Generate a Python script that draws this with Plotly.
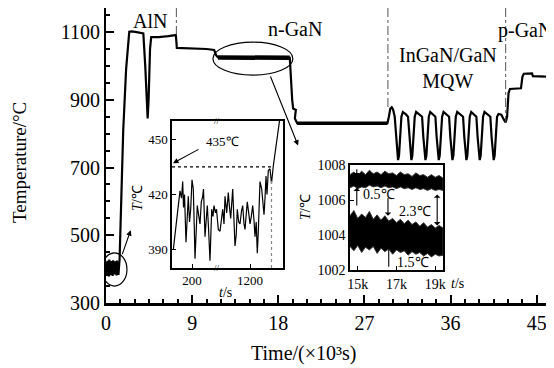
import plotly.graph_objects as go

FONT = "Liberation Serif, Times New Roman, serif"

# ---------------- main growth temperature curve ----------------
main_t = [0.0, 0.05, 0.1, 0.15, 0.2, 0.25, 0.3, 0.35, 0.4, 0.45, 0.5, 0.55, 0.6, 0.65, 0.7,
          0.75, 0.8, 0.85, 0.9, 0.95, 1.0, 1.05, 1.1, 1.15, 1.2, 1.25, 1.3, 1.35, 1.42,
          1.8, 2.1, 2.43, 2.7, 3.2, 3.6, 3.9, 4.1, 4.25, 4.35, 4.45, 4.6, 4.72, 5.5, 6.5,
          7.3, 7.4, 9.0, 10.5, 11.3, 11.5, 11.7, 13.0, 15.0, 17.0, 19.2, 19.3, 19.45,
          19.55, 19.83, 19.73, 19.97, 20.3, 25.0, 29.4, 29.55, 29.7, 29.85, 30.0,
          30.16, 30.29, 30.41, 30.51, 30.61, 30.73, 30.86, 31.01, 31.3,
          31.55, 31.68, 31.8, 31.9, 32.0, 32.12, 32.25, 32.4, 32.7,
          33.02, 33.15, 33.27, 33.37, 33.47, 33.59, 33.72, 33.87, 34.15,
          34.41, 34.54, 34.66, 34.76, 34.86, 34.98, 35.11, 35.26, 35.55,
          35.84, 35.97, 36.09, 36.19, 36.29, 36.41, 36.54, 36.69, 37.0,
          37.3, 37.43, 37.55, 37.65, 37.75, 37.87, 38.0, 38.15, 38.4,
          38.69, 38.82, 38.94, 39.04, 39.14, 39.26, 39.39, 39.54, 39.85,
          40.15, 40.28, 40.4, 40.5, 40.6, 40.72, 40.85, 41.0, 41.3,
          41.55, 41.75, 41.9, 42.05, 42.2, 43.35, 43.5, 43.65, 44.5, 44.6, 46.15, 46.6]
main_T = [395, 420, 380, 425, 385, 415, 378, 428, 390, 418, 382, 424, 388, 420, 380,
          426, 392, 417, 384, 423, 386, 419, 381, 425, 389, 416, 383, 421, 430,
          810, 990, 1101, 1102, 1100, 1098, 1096, 1000, 880, 845, 900, 1050, 1085, 1085, 1088,
          1091, 1053, 1052, 1050, 1047, 1032, 1025, 1024, 1024, 1023, 1024, 960, 900,
          874, 870, 845, 831, 830, 830, 831, 850, 874, 878, 870,
          850, 790, 735, 722, 735, 790, 850, 864, 858,
          850, 790, 735, 722, 735, 790, 850, 864, 858,
          850, 790, 735, 722, 735, 790, 850, 864, 858,
          850, 790, 735, 722, 735, 790, 850, 864, 858,
          850, 790, 735, 722, 735, 790, 850, 864, 858,
          850, 790, 735, 722, 735, 790, 850, 864, 858,
          850, 790, 735, 722, 735, 790, 850, 864, 858,
          850, 790, 735, 722, 735, 790, 850, 858, 856,
          842, 833, 850, 920, 932, 934, 968, 977, 978, 970, 968, 300]

# thick (noisy) plateaus
ngan_t = [11.7, 13.5, 15.5, 17.5, 19.2]
ngan_T = [1025, 1024, 1024, 1023, 1024]
ugan_t = [19.97, 24.0, 29.4]
ugan_T = [831, 830, 831]

x_ticks = [0, 9, 18, 27, 36, 45]
y_ticks = [300, 500, 700, 900, 1100]

stage_names = ["AlN", "n-GaN", "InGaN/GaN<br>MQW", "p-GaN"]
stage_bounds = [7.35, 29.45, 41.75]
stage_bound_bottom = [1090, 872, 833]

# ---------------- inset 1: initial low-temperature stage ----------------
inset1_u = [1.3, 3, 4.7, 6.3, 8, 9.5, 10.7, 11.5, 12.5, 14, 15.2, 16.3, 17.5, 18.7, 20,
            21.3, 22.2, 23, 24.2, 25.3, 26.6, 28, 29.3, 30.7, 31.5, 33, 34.2, 35.3, 36.5, 38,
            39.7, 41, 42, 43.5, 44.5, 46.3, 48, 49.5, 50.7, 52, 53, 54.7, 56.3, 57.5, 58.7,
            60.7, 61.8, 63, 64.2, 65.3, 66.7, 68, 69.5, 70.7, 72, 73, 74.2, 75.3, 76.7, 78,
            79.3, 80.7, 82, 83, 84.2, 85.3, 86.3, 87.3, 88, 89.7, 91, 92, 93, 94, 95,
            96.3, 98, 99.5, 101.3, 102.5, 104, 105.5, 107, 109]
inset1_T = [390, 398, 406, 417, 422, 418, 427, 413, 420, 394, 408, 419, 405, 412, 428,
            423, 404, 385, 400, 414, 409, 404, 416, 419, 423, 397, 406, 414, 402, 384,
            412, 408, 414, 410, 412, 401, 400, 406, 412, 404, 419, 410, 421, 413, 407,
            423, 410, 392, 398, 412, 405, 404, 411, 414, 404, 401, 409, 416, 410, 404,
            408, 414, 406, 397, 405, 388, 400, 413, 427, 423, 415, 409, 418, 430, 420,
            433, 434, 426, 435.5, 440, 448, 452, 458.7, 466]
inset1_tickvals = [20, 78]
inset1_ticktext = ["200", "1200"]
inset1_yticks = [390, 420, 450]
inset1_ref_T = 435

# ---------------- inset 2: n-GaN stage fluctuation bands ----------------
band_t = [14.6, 14.8, 15.0, 15.2, 15.4, 15.6, 15.8, 16.0, 16.2, 16.4, 16.6, 16.8, 17.0,
          17.2, 17.4, 17.6, 17.8, 18.0, 18.2, 18.4, 18.6, 18.8, 19.0, 19.2, 19.4]
upper_top = [1007.45, 1007.6, 1007.4, 1007.65, 1007.45, 1007.7, 1007.5, 1007.6, 1007.45,
             1007.65, 1007.5, 1007.55, 1007.4, 1007.6, 1007.45, 1007.5, 1007.35, 1007.55,
             1007.4, 1007.45, 1007.3, 1007.45, 1007.3, 1007.4, 1007.25]
upper_bot = [1006.7, 1006.8, 1006.65, 1006.75, 1006.7, 1006.85, 1006.75, 1006.8, 1006.7,
             1006.8, 1006.7, 1006.75, 1006.65, 1006.75, 1006.65, 1006.7, 1006.6, 1006.7,
             1006.6, 1006.65, 1006.55, 1006.65, 1006.55, 1006.6, 1006.55]
lower_top = [1005.1, 1005.4, 1004.95, 1005.2, 1005.0, 1005.35, 1004.9, 1005.15, 1004.85,
             1005.1, 1004.8, 1004.95, 1004.7, 1004.9, 1004.65, 1004.85, 1004.6, 1004.75,
             1004.5, 1004.7, 1004.45, 1004.6, 1004.4, 1004.55, 1004.4]
lower_bot = [1003.35, 1003.1, 1003.4, 1003.0, 1003.3, 1003.15, 1003.35, 1002.95, 1003.25,
             1003.05, 1003.2, 1002.9, 1003.15, 1003.0, 1003.1, 1002.85, 1003.05, 1002.9,
             1003.0, 1002.8, 1002.95, 1002.75, 1002.9, 1002.8, 1002.85]
inset2_xticks = [15, 17, 19]
inset2_xtext = ["15k", "17k", "19k"]
inset2_yticks = [1002, 1004, 1006, 1008]

# page body has an 8px default margin: plot area spans screen x 106..554, y 8..303
PX0, PX1, PY0, PY1 = 106, 554, 8, 303
def px(sx):
    return (sx - PX0) / (PX1 - PX0)
def py(sy):
    return (PY1 - sy) / (PY1 - PY0)

fig = go.Figure()

fig.add_trace(go.Scatter(x=main_t, y=main_T, mode="lines",
                         line=dict(color="black", width=2.2), xaxis="x", yaxis="y"))
fig.add_trace(go.Scatter(x=ngan_t, y=ngan_T, mode="lines",
                         line=dict(color="black", width=4.5), xaxis="x", yaxis="y"))
fig.add_trace(go.Scatter(x=ugan_t, y=ugan_T, mode="lines",
                         line=dict(color="black", width=3.5), xaxis="x", yaxis="y"))

fig.add_trace(go.Scatter(x=inset1_u, y=inset1_T, mode="lines",
                         line=dict(color="black", width=1.2), xaxis="x2", yaxis="y2"))
fig.add_trace(go.Scatter(x=[0, inset1_u[-6]], y=[inset1_ref_T, inset1_ref_T], mode="lines",
                         line=dict(color="black", width=1.3, dash="dot"), xaxis="x2", yaxis="y2"))
fig.add_trace(go.Scatter(x=[inset1_u[-7], inset1_u[-7]], y=[380, 428], mode="lines",
                         line=dict(color="#888", width=1.2, dash="dot"), xaxis="x2", yaxis="y2"))

fig.add_trace(go.Scatter(x=band_t + band_t[::-1], y=upper_top + upper_bot[::-1],
                         mode="lines", fill="toself", fillcolor="black",
                         line=dict(color="#333", width=1.0), xaxis="x3", yaxis="y3"))
fig.add_trace(go.Scatter(x=band_t + band_t[::-1], y=lower_top + lower_bot[::-1],
                         mode="lines", fill="toself", fillcolor="black",
                         line=dict(color="#333", width=1.0), xaxis="x3", yaxis="y3"))

shapes = []
for xb, yb in zip(stage_bounds, stage_bound_bottom):
    shapes.append(dict(type="line", xref="x", yref="y", x0=xb, x1=xb, y0=1171, y1=yb,
                       line=dict(color="#555", width=1, dash="dashdot")))
shapes.append(dict(type="circle", xref="x", yref="y", x0=11.17, x1=19.52, y0=973, y1=1070,
                   line=dict(color="black", width=1.2)))
shapes.append(dict(type="circle", xref="x", yref="y", x0=-0.42, x1=2.19, y0=350, y1=448,
                   line=dict(color="black", width=1.2)))

annotations = []
def txt(x, y, s, size=20, xref="x", yref="y", xanchor="center", angle=0):
    annotations.append(dict(x=x, y=y, xref=xref, yref=yref, text=s, showarrow=False,
                            xanchor=xanchor, yanchor="middle", textangle=angle,
                            font=dict(family=FONT, size=size, color="black")))

txt(4.6, 1133, stage_names[0])
txt(19.7, 1108, stage_names[1])
annotations.append(dict(x=35.7, y=995, xref="x", yref="y", text=stage_names[2], showarrow=False,
                        font=dict(family=FONT, size=20, color="black"), align="center"))
txt(46.8, 1106, stage_names[3], xanchor="right")

def arrow(x, y, ax, ay, xref, yref, side="end", head=2):
    annotations.append(dict(x=x, y=y, ax=ax, ay=ay, xref=xref, yref=yref,
                            axref=xref, ayref=yref, text="", showarrow=True,
                            arrowhead=head, startarrowhead=head, arrowside=side,
                            arrowsize=1, arrowwidth=1.1, arrowcolor="black"))

arrow(20.07, 765, 17.12, 973, "x", "y")
arrow(2.58, 515, 1.65, 440, "x", "y")

txt(px(20), py(163), "Temperature/°C", size=19, xref="paper", yref="paper", angle=-90)
txt(px(303), py(353), "Time/(×10³s)", xref="paper", yref="paper")

txt(50, 449, "435℃", size=13, xref="x2", yref="y2")
arrow(1, 437, 28, 445, "x2", "y2")
txt(45, 380, "//", size=9, xref="x2", yref="y2")
txt(45, 460, "//", size=9, xref="x2", yref="y2")
txt(px(225), py(292), "<i>t</i>/s", size=14, xref="paper", yref="paper")
txt(px(137), py(198), "<i>T</i>/℃", size=14, xref="paper", yref="paper", angle=-90)

arrow(14.95, 1007.35, 14.95, 1007.85, "x3", "y3", head=1)
arrow(14.95, 1006.7, 14.95, 1005.6, "x3", "y3", head=1)
arrow(16.56, 1005.1, 16.56, 1006.2, "x3", "y3", head=1)
arrow(19.1, 1004.55, 19.1, 1006.4, "x3", "y3", side="end+start", head=1)
arrow(16.6, 1003.45, 16.6, 1002.1, "x3", "y3", head=1)
txt(15.15, 1006.3, "0.5℃", size=14, xref="x3", yref="y3", xanchor="left")
txt(17.05, 1005.37, "2.3℃", size=14, xref="x3", yref="y3", xanchor="left")
txt(16.9, 1002.45, "1.5℃", size=14, xref="x3", yref="y3", xanchor="left")
txt(px(457), py(283), "<i>t</i>/s", size=14, xref="paper", yref="paper")
txt(px(305), py(207), "<i>T</i>/℃", size=14, xref="paper", yref="paper", angle=-90)

axis_common = dict(showgrid=False, zeroline=False, showline=True, linecolor="black",
                   ticks="inside", tickcolor="black", automargin=False)

fig.update_layout(
    template="none",
    width=546, height=360,
    margin=dict(l=PX0 - 8, r=0, t=0, b=360 - (PY1 - 8), pad=0),
    paper_bgcolor="white", plot_bgcolor="white",
    showlegend=False,
    font=dict(family=FONT, color="black"),
    xaxis=dict(domain=[0, 1], range=[0, 46.8], tickvals=x_ticks, ticklen=8, tickwidth=2,
               linewidth=3, mirror=True, tickfont=dict(family=FONT, size=20),
               minor=dict(dtick=1.5, tick0=0, ticks="inside", ticklen=4, tickwidth=1.5,
                          tickcolor="black"),
               **axis_common),
    yaxis=dict(domain=[0, 1], range=[300, 1171], tickvals=y_ticks, ticklen=8, tickwidth=2,
               linewidth=2, tickfont=dict(family=FONT, size=20),
               minor=dict(dtick=50, tick0=300, ticks="inside", ticklen=4, tickwidth=1.5,
                          tickcolor="black"),
               **axis_common),
    xaxis2=dict(domain=[px(172), px(283)], anchor="y2", range=[0, 111], tickvals=inset1_tickvals,
                ticktext=inset1_ticktext, ticklen=4, linewidth=1.5, mirror=True,
                tickfont=dict(family=FONT, size=13), **axis_common),
    yaxis2=dict(domain=[py(268), py(121)], anchor="x2", range=[380, 460], tickvals=inset1_yticks,
                ticklen=4, linewidth=1.5, mirror=True,
                tickfont=dict(family=FONT, size=13), **axis_common),
    xaxis3=dict(domain=[px(350), px(443)], anchor="y3", range=[14.6, 19.4], tickvals=inset2_xticks,
                ticktext=inset2_xtext, ticklen=4, linewidth=1.5, mirror=True,
                tickfont=dict(family=FONT, size=14), **axis_common),
    yaxis3=dict(domain=[py(270), py(165)], anchor="x3", range=[1002, 1008], tickvals=inset2_yticks,
                ticklen=4, linewidth=1.5, mirror=True,
                tickfont=dict(family=FONT, size=14), **axis_common),
    shapes=shapes,
    annotations=annotations,
)

fig.write_html("out.html")
